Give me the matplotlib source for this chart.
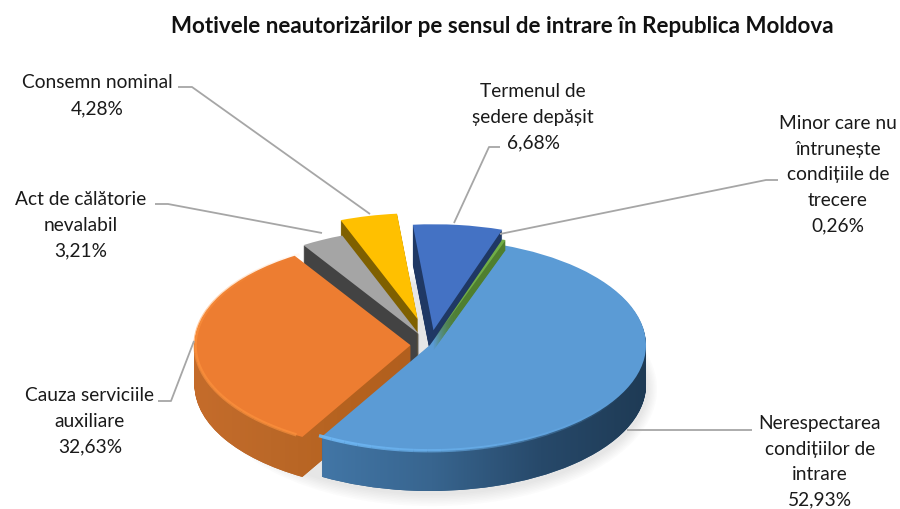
import numpy as np
import matplotlib
matplotlib.use("Agg")
import matplotlib.pyplot as plt
from matplotlib.colors import LinearSegmentedColormap
from matplotlib.patches import Arc, Ellipse
from matplotlib.path import Path

plt.rcParams['font.family'] = ['Lato', 'DejaVu Sans']

title = "Motivele neautorizărilor pe sensul de intrare în Republica Moldova"
categories = ["Nerespectarea\ncondițiilor de\nintrare", "Cauza serviciile\nauxiliare",
              "Act de călătorie\nnevalabil", "Consemn nominal",
              "Termenul de\nședere depășit",
              "Minor care nu\nîntrunește\ncondițiile de\ntrecere"]
values = [52.93, 32.63, 3.21, 4.28, 6.68, 0.26]

explode = [0.0, 0.09, 0.11, 0.25, 0.14, 0.05]
top_colors = ["#5b9bd5", "#ed7d31", "#a5a5a5", "#ffc000", "#4472c4", "#70ad47"]
wall_colors = ["#2f5b84", "#b9642a", "#434343", "#7f6000", "#1f3864", "#4f7f2f"]
# back to front, the thin green slice goes last with a short wall
draw_order = [3, 4, 2, 1, 0, 5]

# pixels of the picture
CX, CY = 430, 346
RX, RY = 216, 106
DEPTH = 40
GREEN_DEPTH = 10
START = 70.5

def px(x, y):
    return (x - CX) / RX, (CY - y) / RY

fig = plt.figure(figsize=(9, 5.1), dpi=100)
ax = fig.add_axes([0, 0, 1, 1])

# soft shadow under the pie
for k in range(8):
    ax.add_patch(Ellipse(px(432, 390), 2.0 + 0.012 * k, 2.0 + 0.03 * k, color="#7f7f7f",
                         alpha=0.025, lw=0, zorder=1))

walls = {i: [] for i in range(len(values))}
for d in range(DEPTH, 0, -1):
    wedges, _ = ax.pie(values, explode=explode, startangle=START, counterclock=False,
                       colors=wall_colors, radius=1, center=(0, -d / RY),
                       wedgeprops={'linewidth': 0})
    for i, w in enumerate(wedges):
        w.set_zorder(10 + 10 * draw_order.index(i))
        walls[i].append(w)
        if i == 5 and d > GREEN_DEPTH:
            w.set_visible(False)

tops, _ = ax.pie(values, explode=explode, startangle=START, counterclock=False,
                 colors=top_colors, radius=1, wedgeprops={'linewidth': 0})
for i, w in enumerate(tops):
    w.set_zorder(15 + 10 * draw_order.index(i))

# horizontal shading on the two big walls
shades = {0: ["#4276a6", "#38658f", "#27496a", "#1e3a54"],
          1: ["#c56c2b", "#bb6828", "#b5621f", "#b05e1e"]}
for i, cols in shades.items():
    cmap = LinearSegmentedColormap.from_list("s%d" % i, cols)
    x0, x1 = (-0.5, 1.02) if i == 0 else (-1.1, 0.0)
    im = ax.imshow(np.linspace(0, 1, 256).reshape(1, -1), cmap=cmap, aspect='auto',
                   extent=(x0, x1, -1.6, 1.0), zorder=12 + 10 * draw_order.index(i))
    paths = [w.get_path().transformed(w.get_patch_transform()) for w in walls[i]]
    im.set_clip_path(Path.make_compound_path(*paths), transform=ax.transData)

# bright bevel along the front rim, fading out
rims = {0: ("#6fb8f5", -121, -30), 1: ("#ff9540", -239, -122)}
for i, (col, t0, t1) in rims.items():
    steps = 24
    for s in range(steps):
        a = t0 + (t1 - t0) * s / steps
        b = t0 + (t1 - t0) * (s + 1) / steps
        alpha = 0.9 * (1 - s / steps) if i == 0 else 0.6 * min(1, 2 * s / steps + 0.1)
        ax.add_patch(Arc(tops[i].center, 1.995, 1.995, theta1=a, theta2=b, color=col,
                         lw=2.4, alpha=alpha, zorder=16 + 10 * draw_order.index(i)))

ax.set_aspect('auto')
ax.set_xlim(px(0, 0)[0], px(900, 0)[0])
ax.set_ylim(px(0, 510)[1], px(0, 0)[1])
ax.axis('off')

# leader lines
leaders = {0: [(752, 431), (740, 431), (627, 431)],
           1: [(158, 402), (171, 402), (194, 342)],
           2: [(155, 205), (168, 205), (322, 234)],
           3: [(178, 88), (192, 88), (370, 215)],
           4: [(500, 148), (489, 148), (454, 224)],
           5: [(778, 181), (766, 181), (500, 235)]}
for pts in leaders.values():
    xy = np.array([px(*p) for p in pts])
    ax.plot(xy[:, 0], xy[:, 1], color="#a6a6a6", lw=1.3, zorder=100, solid_capstyle='butt')

# label centre and first line of text, pixels
label_pos = {0: (820, 424), 1: (90, 396), 2: (81, 200), 3: (97, 83), 4: (533, 92), 5: (838, 124)}
LINE = 25.4
for i, name in enumerate(categories):
    lines = name.split("\n") + ["%.2f%%" % values[i]]
    lines[-1] = lines[-1].replace(".", ",")
    x, y = label_pos[i]
    for k, s in enumerate(lines):
        tx, ty = px(x, y + k * LINE)
        ax.text(tx, ty, s, ha='center', va='center', fontsize=13.8, color="#1a1a1a", zorder=110)

tx, ty = px(502, 27)
ax.text(tx, ty, title, ha='center', va='center', fontsize=16.1, fontweight='bold', color="#111111", zorder=110)

fig.savefig("out.png", dpi=100)
